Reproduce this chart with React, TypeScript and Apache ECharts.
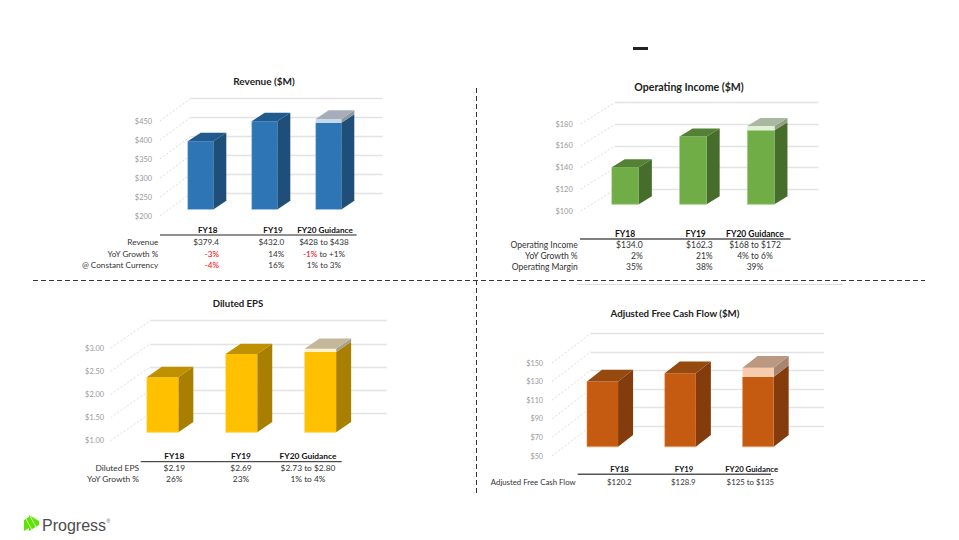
import React, { useEffect, useRef } from "react";
import * as echarts from "echarts";

const categories = ["FY18", "FY19", "FY20 Guidance"];

const revenueValues = [379.4, 432.0, 428];
const revenueHigh = [null, null, 438];
const revenueTicks = [200, 250, 300, 350, 400, 450];
const revenueRows = [
  ["Revenue", "$379.4", "$432.0", "$428 to $438"],
  ["YoY Growth %", "{r|-3%}", "14%", "{r|-1%} to +1%"],
  ["@ Constant Currency", "{r|-4%}", "16%", "1% to 3%"],
];

const opIncomeValues = [134.0, 162.3, 168];
const opIncomeHigh = [null, null, 172];
const opIncomeTicks = [100, 120, 140, 160, 180];
const opIncomeRows = [
  ["Operating Income", "$134.0", "$162.3", "$168 to $172"],
  ["YoY Growth %", "2%", "21%", "4% to 6%"],
  ["Operating Margin", "35%", "38%", "39%"],
];

const epsValues = [2.19, 2.69, 2.73];
const epsHigh = [null, null, 2.8];
const epsTicks = [1, 1.5, 2, 2.5, 3];
const epsRows = [
  ["Diluted EPS", "$2.19", "$2.69", "$2.73 to $2.80"],
  ["YoY Growth %", "26%", "23%", "1% to 4%"],
];

const fcfValues = [120.2, 128.9, 125];
const fcfHigh = [null, null, 135];
const fcfTicks = [50, 70, 90, 110, 130, 150];
const fcfRows = [["Adjusted Free Cash Flow", "$120.2", "$128.9", "$125 to $135"]];

const FONT = 'Lato, "Open Sans", sans-serif';

const panels = [
  {
    title: "Revenue ($M)", titleX: 264, titleY: 81, titleSize: 10, tableSize: 8.2, axisSize: 7.4,
    values: revenueValues, high: revenueHigh, ticks: revenueTicks, rows: revenueRows,
    fmt: (v: number) => "$" + v,
    left: 160, top: 121, width: 192, height: 95, wallX: 30.7, wallY: -22.6,
    insetX: 8.5, insetY: -6.5, depthX: 13, depthY: -8.7, labelMargin: 8,
    colors: { front: "#2e75b6", edge: "#9dc3e6", side: "#1f4e79", top: "#215a8e", band: "#c9d7eb", bandTop: "#a6adba", bandSide: "#90979d" },
    rule: { x1: 160, x2: 356.7, y: 235, w: 1, c: "#222222" },
    headY: 230, headX: [207.7, 273, 325],
    rowY: [241.7, 253.5, 265], labelX: 158.3,
    cols: [{ x: 219, a: "right" }, { x: 284.3, a: "right" }, { x: 324, a: "center" }],
  },
  {
    title: "Operating Income ($M)", titleX: 689, titleY: 86.5, titleSize: 10.6, tableSize: 8.5, axisSize: 7.4,
    values: opIncomeValues, high: opIncomeHigh, ticks: opIncomeTicks, rows: opIncomeRows,
    fmt: (v: number) => "$" + v,
    left: 580.7, top: 124, width: 203.4, height: 87, wallX: 34.3, wallY: -21.6,
    insetX: 10.7, insetY: -6.7, depthX: 13, depthY: -8, labelMargin: 8,
    colors: { front: "#70ad47", edge: "#a9d18e", side: "#476d2d", top: "#548235", band: "#e2efd9", bandTop: "#a9b8a0", bandSide: "#90a080" },
    rule: { x1: 580, x2: 790.7, y: 239, w: 1.5, c: "#555555" },
    headY: 233.7, headX: [625, 695.7, 755],
    rowY: [245.3, 256, 267], labelX: 577.7,
    cols: [{ x: 642.7, a: "right" }, { x: 712.7, a: "right" }, { x: 755, a: "center" }],
  },
  {
    title: "Diluted EPS", titleX: 238, titleY: 303, titleSize: 9.6, tableSize: 8.4, axisSize: 7.4,
    values: epsValues, high: epsHigh, ticks: epsTicks, rows: epsRows,
    fmt: (v: number) => "$" + v.toFixed(2),
    left: 110.7, top: 348, width: 236.7, height: 92.7, wallX: 39.3, wallY: -27.3,
    insetX: 12.4, insetY: -8.4, depthX: 15, depthY: -10.3, labelMargin: 6.7,
    colors: { front: "#ffc000", edge: "#ffd966", side: "#a97f00", top: "#bf9000", band: "#fff2cc", bandTop: "#c4b89a", bandSide: "#a89f88" },
    rule: { x1: 140.7, x2: 341.7, y: 461.7, w: 1, c: "#222222" },
    headY: 456.3, headX: [174.3, 241, 308],
    rowY: [468, 479.3], labelX: 139,
    cols: [{ x: 174.3, a: "center" }, { x: 241, a: "center" }, { x: 308, a: "center" }],
  },
  {
    title: "Adjusted Free Cash Flow ($M)", titleX: 675, titleY: 313, titleSize: 9.7, tableSize: 7.8, axisSize: 7.2,
    values: fcfValues, high: fcfHigh, ticks: fcfTicks, rows: fcfRows,
    fmt: (v: number) => "$" + v,
    left: 552, top: 363, width: 233.4, height: 93, wallX: 38.7, wallY: -29.7,
    insetX: 11.6, insetY: -9.3, depthX: 15, depthY: -11.7, labelMargin: 9,
    colors: { front: "#c55a11", edge: "#e89a66", side: "#843c0c", top: "#964a0f", band: "#f8cbad", bandTop: "#bb9880", bandSide: "#a88570" },
    rule: { x1: 577.7, x2: 771, y: 474.3, w: 1.5, c: "#555555" },
    headY: 469.3, headX: [619.5, 684, 751.7],
    rowY: [481.7], labelX: 575.7,
    cols: [{ x: 619.3, a: "center" }, { x: 683.3, a: "center" }, { x: 750.3, a: "center" }],
  },
];

function text(x: number, y: number, s: string, o: any = {}) {
  const family = o.family || FONT;
  return {
    type: "text", x, y, silent: true,
    style: {
      text: s, fill: o.fill || "#333333", align: o.align || "center", verticalAlign: "middle",
      font: `${o.bold ? "bold " : ""}${o.size || 8.2}px ${family}`,
      rich: { r: { fill: "#ff0000", font: `${o.size || 8.2}px ${family}` } },
    },
  };
}

function line(x1: number, y1: number, x2: number, y2: number, style: any) {
  return { type: "line", silent: true, shape: { x1, y1, x2, y2 }, style };
}

function poly(points: number[][], fill: string) {
  return { type: "polygon", shape: { points }, style: { fill } };
}

function barRenderer(p: any) {
  const min = p.ticks[0];
  return (_: any, api: any) => {
    const i = api.value(0);
    const low = api.value(1);
    const high = api.value(2);
    const base = api.coord([i, min]);
    const yLow = api.coord([i, low])[1] + p.insetY;
    const hasBand = high > low;
    const yTop = hasBand ? api.coord([i, high])[1] + p.insetY : yLow;
    const yBase = base[1] + p.insetY;
    const w = api.size([1, 0])[0] * 0.4;
    const x0 = base[0] + p.insetX - w / 2;
    const x1 = x0 + w;
    const dx = p.depthX;
    const dy = p.depthY;
    const c = p.colors;
    const children: any[] = [
      poly([[x1, yLow], [x1 + dx, yLow + dy], [x1 + dx, yBase + dy], [x1, yBase]], c.side),
      { type: "rect", shape: { x: x0, y: yLow, width: w, height: yBase - yLow }, style: { fill: c.front } },
      line(x0, yBase, x1, yBase, { stroke: c.edge, lineWidth: 1 }),
      line(x0, yLow, x0, yBase, { stroke: c.edge, lineWidth: 0.5 }),
    ];
    if (hasBand) {
      children.push(
        poly([[x1, yTop], [x1 + dx, yTop + dy], [x1 + dx, yLow + dy], [x1, yLow]], c.bandSide),
        { type: "rect", shape: { x: x0, y: yTop, width: w, height: yLow - yTop }, style: { fill: c.band } },
        poly([[x0, yTop], [x1, yTop], [x1 + dx, yTop + dy], [x0 + dx, yTop + dy]], c.bandTop),
      );
    } else {
      children.push(poly([[x0, yLow], [x1, yLow], [x1 + dx, yLow + dy], [x0 + dx, yLow + dy]], c.top));
    }
    return { type: "group", children };
  };
}

function diagonalRenderer(p: any) {
  return (params: any, api: any) => {
    const y = api.coord([0, api.value(0)])[1];
    const x = params.coordSys.x;
    return line(x, y, x + p.wallX, y + p.wallY, { stroke: "#dddddd", lineWidth: 1, lineDash: [2, 2] });
  };
}

function buildOption() {
  const grid: any[] = [];
  const xAxis: any[] = [];
  const yAxis: any[] = [];
  const series: any[] = [];
  const title: any[] = [];
  const graphic: any[] = [];

  panels.forEach((p, n) => {
    const min = p.ticks[0];
    const max = p.ticks[p.ticks.length - 1];
    const front = n * 2;
    const back = n * 2 + 1;
    grid.push({ left: p.left, top: p.top, width: p.width, height: p.height });
    grid.push({ left: p.left + p.wallX, top: p.top + p.wallY, width: p.width, height: p.height });
    xAxis.push({ gridIndex: front, type: "category", data: categories, show: false });
    xAxis.push({ gridIndex: back, type: "category", data: categories, show: false });
    const common = { type: "value", min, max, axisLine: { show: false } };
    yAxis.push({
      ...common, gridIndex: front,
      axisTick: { show: false, customValues: p.ticks },
      axisLabel: {
        customValues: p.ticks, formatter: p.fmt, color: "#999999", fontSize: p.axisSize, fontFamily: FONT, margin: p.labelMargin,
      },
      splitLine: { show: false },
    });
    yAxis.push({
      ...common, gridIndex: back,
      axisTick: { show: false, customValues: p.ticks },
      axisLabel: { show: false },
      splitLine: { show: true, lineStyle: { color: "#e3e3e3", width: 1.3 } },
    });
    series.push({
      type: "custom", xAxisIndex: front, yAxisIndex: front, clip: false, silent: true, z: 2,
      data: p.ticks.map((t) => [t]), encode: { y: 0 }, renderItem: diagonalRenderer(p),
    });
    series.push({
      type: "custom", xAxisIndex: front, yAxisIndex: front, clip: false, silent: true, z: 3,
      data: p.values.map((v, i) => [i, v, p.high[i]]), encode: { x: 0, y: [1, 2] }, renderItem: barRenderer(p),
    });
    title.push({
      text: p.title, left: p.titleX, top: p.titleY, textAlign: "center", textVerticalAlign: "middle", padding: 0,
      textStyle: { fontSize: p.titleSize, fontWeight: "bold", color: "#222222", fontFamily: FONT },
    });
    graphic.push(line(p.rule.x1, p.rule.y, p.rule.x2, p.rule.y, { stroke: p.rule.c, lineWidth: p.rule.w }));
    categories.forEach((c, i) => graphic.push(text(p.headX[i], p.headY, c, { bold: true, fill: "#111111", size: p.tableSize })));
    p.rows.forEach((row, r) => {
      graphic.push(text(p.labelX, p.rowY[r], row[0], { align: "right", size: p.tableSize }));
      p.cols.forEach((col, k) => graphic.push(text(col.x, p.rowY[r], row[k + 1], { align: col.a, size: p.tableSize })));
    });
  });

  const dash = { stroke: "#333333", lineWidth: 1, lineDash: [5, 3] };
  graphic.push(line(33, 280.5, 925, 280.5, dash));
  graphic.push(line(476.5, 88, 476.5, 495, dash));
  graphic.push(line(577, 284.5, 843, 284.5, { stroke: "#dddddd", lineWidth: 1 }));
  graphic.push({ type: "rect", silent: true, shape: { x: 633, y: 47, width: 15, height: 3 }, style: { fill: "#222222" } });
  graphic.push(poly([[24, 520], [29, 517], [29, 515], [39, 521], [39, 525], [29, 531], [29, 528], [24, 531]], "#5ce500"));
  graphic.push(line(30, 516, 36, 527, { stroke: "#ffffff", lineWidth: 0.8 }));
  graphic.push(line(26, 519, 32, 530, { stroke: "#ffffff", lineWidth: 0.8 }));
  graphic.push(text(42, 525, "Progress", { align: "left", size: 16, fill: "#4d4d4d", family: '"Liberation Sans", sans-serif' }));
  graphic.push(text(106.5, 521, "®", { align: "left", size: 5, fill: "#555555", family: '"Liberation Sans", sans-serif' }));

  return { animation: false, backgroundColor: "#ffffff", title, grid, xAxis, yAxis, series, graphic };
}

export default function App() {
  const ref = useRef<HTMLDivElement>(null);
  useEffect(() => {
    document.body.style.margin = "0";
    const chart = echarts.init(ref.current!, null, { renderer: "svg" });
    chart.setOption(buildOption() as any);
    return () => chart.dispose();
  }, []);
  return <div ref={ref} style={{ width: 959, height: 540 }} />;
}
